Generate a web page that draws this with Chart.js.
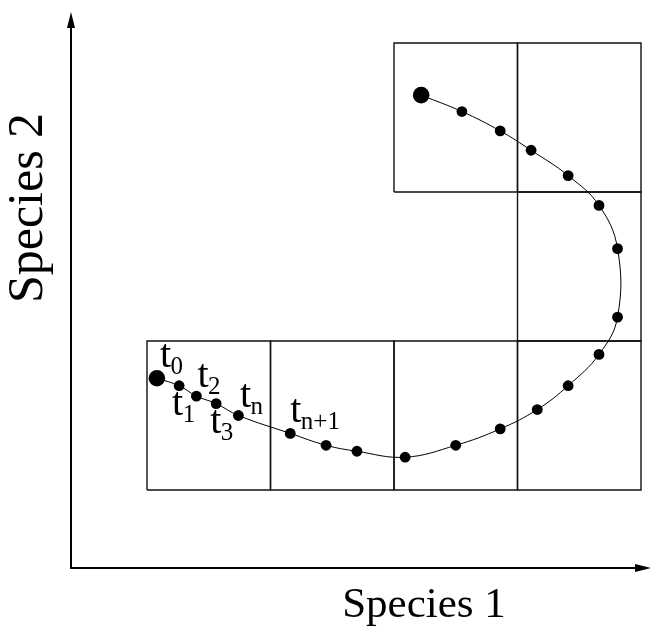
<!DOCTYPE html>
<html>
<head>
<meta charset="utf-8">
<script src="https://cdn.jsdelivr.net/npm/chart.js@4/dist/chart.umd.min.js"></script>
<style>
    html, body { margin: 0; padding: 0; background: #fff; }
    canvas { display: block; }
</style>
</head>
<body>
<canvas id="chart" width="656" height="629"></canvas>
<script>
// Trajectoire dans l'espace des phases (espèce 1 / espèce 2), en unités de cellule

// Points de la trajectoire t0 ... fin
const speciesOne = [1.08, 1.26, 1.40, 1.56, 1.74, 2.16, 2.45, 2.70, 3.09, 3.50, 3.86,
                    4.16, 4.41, 4.66, 4.81, 4.81, 4.66, 4.41, 4.11, 3.86, 3.55, 3.22];
const speciesTwo = [1.75, 1.70, 1.63, 1.58, 1.50, 1.38, 1.30, 1.26, 1.22, 1.30, 1.41,
                    1.54, 1.70, 1.91, 2.16, 2.62, 2.91, 3.11, 3.28, 3.41, 3.54, 3.65];

// Cellules de la grille (coin inférieur gauche, taille 1)
const cellX = [1, 2, 3, 4, 4, 3, 4];
const cellY = [1, 1, 1, 1, 2, 3, 3];

// Étiquettes temporelles : indice du point et indice inférieur
const labelPoint = [0, 1, 2, 3, 4, 5];
const labelSub = ['0', '1', '2', '3', 'n', 'n+1'];

const xAxisTitle = 'Species 1';
const yAxisTitle = 'Species 2';

// ── Styles / placement ───────────────────────
const SERIF = '"Liberation Serif", "DejaVu Serif", serif';
const LABEL_OFFSETS = [[3, -11], [-7, 29], [1, -9], [-6, 29], [1.5, -8], [0, -11]];

const trajectory = speciesOne.map((x, i) => ({ x, y: speciesTwo[i] }));
const lastIndex = trajectory.length - 1;

const cellDatasets = cellX.map((x0, i) => {
    const y0 = cellY[i];
    return {
        data: [
            { x: x0, y: y0 }, { x: x0 + 1, y: y0 }, { x: x0 + 1, y: y0 + 1 },
            { x: x0, y: y0 + 1 }, { x: x0, y: y0 },
        ],
        showLine: true,
        borderColor: '#111',
        borderWidth: 1.4,
        pointRadius: 0,
        tension: 0,
        fill: false,
    };
});

const axesPlugin = {
    id: 'axes',
    beforeDatasetsDraw(chart) {
        const { ctx, chartArea: a } = chart;
        ctx.save();
        ctx.strokeStyle = '#000';
        ctx.fillStyle = '#000';
        ctx.lineWidth = 2;
        ctx.beginPath();
        ctx.moveTo(a.left, a.top + 12);
        ctx.lineTo(a.left, a.bottom);
        ctx.lineTo(a.right - 12, a.bottom);
        ctx.stroke();
        // flèches
        ctx.beginPath();
        ctx.moveTo(a.left, a.top);
        ctx.lineTo(a.left - 4, a.top + 16);
        ctx.lineTo(a.left + 4, a.top + 16);
        ctx.closePath();
        ctx.fill();
        ctx.beginPath();
        ctx.moveTo(a.right, a.bottom);
        ctx.lineTo(a.right - 16, a.bottom - 4);
        ctx.lineTo(a.right - 16, a.bottom + 4);
        ctx.closePath();
        ctx.fill();

        // titres des axes
        ctx.textBaseline = 'alphabetic';
        ctx.textAlign = 'center';
        ctx.font = `43px ${SERIF}`;
        ctx.fillText(xAxisTitle, 424, 617);
        ctx.translate(42, 208);
        ctx.rotate(-Math.PI / 2);
        ctx.font = `50px ${SERIF}`;
        ctx.fillText(yAxisTitle, 0, 0);
        ctx.restore();
    },
    afterDatasetsDraw(chart) {
        const { ctx } = chart;
        const xs = chart.scales.x;
        const ys = chart.scales.y;
        ctx.save();
        ctx.fillStyle = '#000';
        ctx.textAlign = 'left';
        ctx.textBaseline = 'alphabetic';
        labelPoint.forEach((idx, i) => {
            const px = xs.getPixelForValue(speciesOne[idx]) + LABEL_OFFSETS[i][0];
            const py = ys.getPixelForValue(speciesTwo[idx]) + LABEL_OFFSETS[i][1];
            ctx.font = `40px ${SERIF}`;
            ctx.fillText('t', px, py);
            const w = ctx.measureText('t').width;
            ctx.font = `25px ${SERIF}`;
            ctx.fillText(labelSub[i], px + w - 0.5, py + 7);
        });
        ctx.restore();
    },
};

new Chart(document.getElementById('chart'), {
    type: 'scatter',
    data: {
        datasets: [
            {
                data: trajectory,
                showLine: true,
                borderColor: '#000',
                borderWidth: 1,
                backgroundColor: '#000',
                pointBorderWidth: 0,
                pointRadius: trajectory.map((_, i) => (i === 0 || i === lastIndex ? 8.3 : 5.4)),
                tension: 0.4,
                fill: false,
            },
            ...cellDatasets,
        ],
    },
    options: {
        responsive: false,
        animation: false,
        events: [],
        devicePixelRatio: 1,
        layout: { autoPadding: false, padding: { left: 71, right: 5, top: 12, bottom: 61 } },
        plugins: { legend: { display: false }, tooltip: { enabled: false } },
        scales: {
            x: { type: 'linear', display: false, min: 0.3846, max: 5.081 },
            y: { type: 'linear', display: false, min: 0.4765, max: 4.208 },
        },
    },
    plugins: [axesPlugin],
});
</script>
</body>
</html>
